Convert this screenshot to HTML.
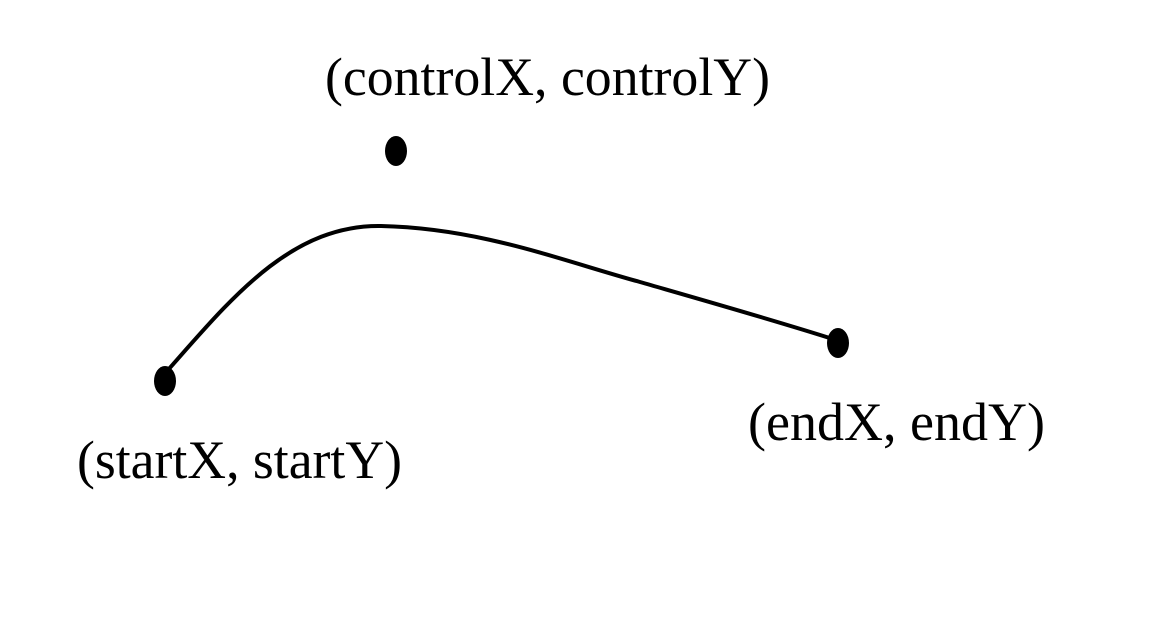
<!DOCTYPE html>
<html><head><meta charset="utf-8"><style>
html,body{margin:0;padding:0;background:#fff;width:1164px;height:633px;overflow:hidden}
</style></head><body>
<svg width="1164" height="633" xmlns="http://www.w3.org/2000/svg" style="display:block">
<rect width="1164" height="633" fill="#fff"/>
<path d="M168,370 C230,300 290,225 380,226 C480,228 560,260 640,282 C720,305 780,322 836,340" fill="none" stroke="#000" stroke-width="4"/>
<ellipse cx="396" cy="151" rx="11" ry="15" fill="#000"/>
<ellipse cx="165" cy="381" rx="11" ry="15" fill="#000"/>
<ellipse cx="838" cy="343" rx="11" ry="15" fill="#000"/>
<g font-family="Liberation Serif, serif" font-size="54" fill="#000">
<text x="325" y="95" textLength="445" lengthAdjust="spacingAndGlyphs">(controlX, controlY)</text>
<text x="77" y="478" textLength="325" lengthAdjust="spacingAndGlyphs">(startX, startY)</text>
<text x="748" y="440" textLength="297" lengthAdjust="spacingAndGlyphs">(endX, endY)</text>
</g>
</svg>
</body></html>
